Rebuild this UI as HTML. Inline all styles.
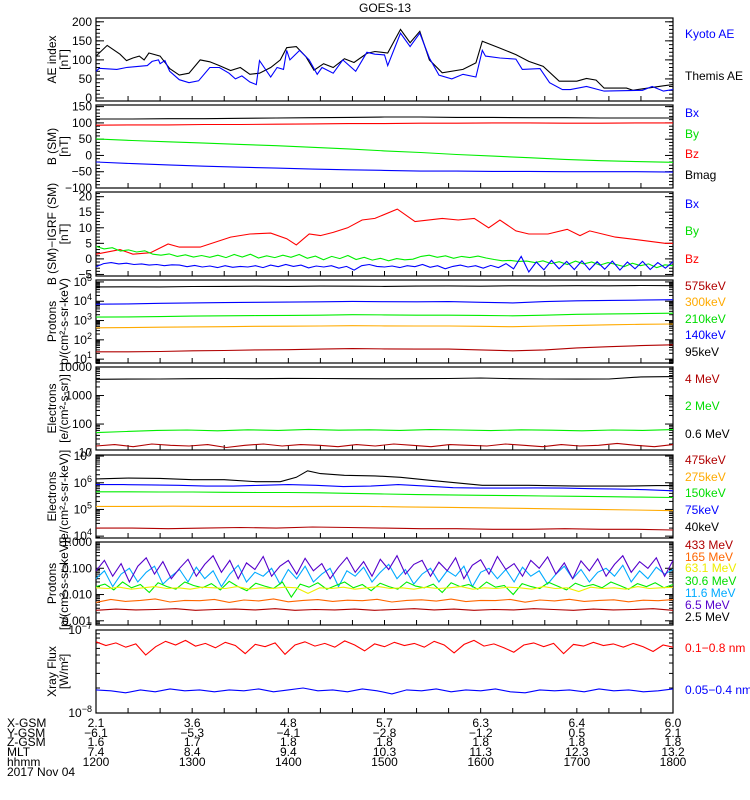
<!DOCTYPE html>
<html><head><meta charset="utf-8">
<style>
body{margin:0;background:#fff;}
svg{display:block;font-family:"Liberation Sans",sans-serif;}
text{font-size:12px;}
</style></head>
<body>
<svg id="chart" width="750" height="800" viewBox="0 0 750 800" xmlns="http://www.w3.org/2000/svg">
<rect width="750" height="800" fill="#fff"/>
<text x="385" y="12" text-anchor="middle" font-size="13">GOES-13</text>
<g id="g"></g>
</svg>
<script>
// ===== data =====
// Panel 1: AE index (time in minutes after 1200)
const aeThemisT=[0,7,15,19,23,27,30,33,40,46,52,58,65,71,77,84,90,96,102,109,115,119,125,131,136,142,148,155,161,169,174,182,190,196,202,208,216,229,237,241,252,262,270,279,289,300,306,312,317,331,335,354,360];
const aeThemisV=[110,138,115,98,105,110,100,118,110,77,60,65,100,95,85,72,80,62,65,80,100,132,135,108,73,90,80,103,93,117,122,118,180,145,175,100,66,75,92,149,131,114,96,83,44,44,51,47,26,26,20,32,35];
const aeKyotoT=[0,2,13,19,32,35,39,40,43,46,52,58,64,71,77,83,87,91,96,100,102,109,113,117,119,121,127,133,138,141,148,154,162,169,174,180,182,190,196,202,208,214,222,229,237,241,243,252,262,266,277,283,291,296,306,317,341,347,354,360];
const aeKyotoV=[70,78,75,80,85,96,100,90,98,70,48,40,45,80,80,65,50,58,42,35,98,55,80,75,125,100,125,100,62,80,65,100,70,120,115,113,85,170,135,170,105,60,50,62,55,125,110,105,102,75,77,40,22,22,30,18,20,30,18,22];
// Panel 2: B (SM)
const bMag=[112,112,113,113,114,115,116,117,118,118,117,117,116,116,115,115,115];
const bZ=[93,94,94,95,95,96,97,98,98,99,99,100,100,99,99,100,100];
const bY=[51,46,42,38,34,30,25,20,14,9,3,-2,-7,-12,-16,-19,-21];
const bX=[-20,-25,-29,-33,-36,-39,-42,-44,-46,-48,-48,-49,-49,-50,-50,-50,-51];
// Panel 3: B - IGRF
const dBzT=[0,15,23,34,45,52,65,84,96,109,119,125,133,140,148,157,166,174,188,199,216,226,236,245,252,262,270,282,294,302,308,324,340,355,360];
const dBzV=[1.5,3,1.5,2,4.8,3.8,3.8,7,8,8.3,6.5,4.5,8,7.5,8.5,10,12.5,13,16,12,13,12.5,13,10,12.5,9,8,8,9.5,7.5,9,7,6,5,5];
const dBy=[4,3.2,3.6,2.5,2.9,2.2,2.6,1.5,1.2,1.6,0.8,1.3,0.6,1.1,0.5,1.2,0.4,1.4,0.6,1.5,0.3,1.0,0.4,1.2,0.5,1.4,0.2,0.9,-0.3,0.8,0.1,1.1,-0.2,0.5,-0.4,0.2,-0.6,0.1,-0.3,-0.1,0.8,1.2,0.5,1.0,0.2,0.8,0.4,0.9,0.3,-0.2,-0.6,-0.5,-0.8,-0.7,-1.2,-0.6,-1.5,-0.9,-1.8,-0.7,-1.6,-1.0,-2.0,-1.2,-1.8,-2.5,-1.4,-2.2,-1.6,-2.8,-1.9,-2.2];
const dBx=[-2.5,-1.5,-1.2,-1.6,-1.4,-1.8,-1.6,-2.0,-1.8,-2.2,-1.9,-2.0,-2.5,-2.1,-2.6,-2.3,-2.8,-2.2,-2.7,-2.4,-2.6,-2.2,-2.8,-2.0,-2.5,-1.8,-2.4,-2.0,-2.9,-2.3,-2.6,-2.2,-3.0,-2.4,-3.6,-2.2,-1.8,-2.4,-2.6,-2.3,-2.8,-2.2,-2.5,-1.8,-2.7,-2.2,-3.2,-2.4,-2.0,-2.6,-2.2,-3.0,-2.1,-2.8,-1.5,-3.2,0.8,-4.2,-1.0,-3.5,-0.5,-3.2,-0.8,-3.4,-0.6,-3.5,-0.9,-3.3,-0.7,-3.6,-1.0,-3.2,-0.8,-3.4,-1.2,-3.0,-0.9];
// Panel 4: protons
const p4Black=[5.5e4,5.6e4,5.5e4,5.8e4,5.9e4,6e4,5.9e4,6.1e4,6e4,5.9e4,6.1e4,6.2e4,6e4,6.3e4,6.2e4,6.4e4,6.3e4,6.5e4,6.4e4];
const p4Blue=[7e3,7.3e3,7.8e3,8.2e3,8.5e3,8.8e3,9e3,9.4e3,9.8e3,9.5e3,9.3e3,9.6e3,8.8e3,8.2e3,9.6e3,1.05e4,1.1e4,1.15e4,1.2e4];
const p4Green=[1.5e3,1.55e3,1.6e3,1.7e3,1.75e3,1.8e3,1.85e3,1.9e3,2e3,1.95e3,1.9e3,1.9e3,1.85e3,1.75e3,1.9e3,2.1e3,2.2e3,2.3e3,2.4e3];
const p4Orange=[420,430,450,470,480,500,510,520,540,530,520,520,500,480,520,560,600,640,660];
const p4DkRed=[24,24,25,27,28,30,31,33,35,34,33,33,30,27,30,38,44,50,55];
// Panel 5: electrons integral
const e5Black=[3.7e3,3.75e3,3.8e3,3.9e3,3.95e3,3.9e3,4e3,3.95e3,3.9e3,3.85e3,3.9e3,3.95e3,4.1e3,3.9e3,3.8e3,3.75e3,3.8e3,4.5e3,4.6e3];
const e5Green=[50,55,60,62,58,63,60,65,61,63,60,64,62,59,63,61,58,62,60,64];
const e5Red=[17,19,16,20,18,17,19,15,18,20,17,19,18,16,19,17,20,18,16,19,18,17,20,18,16,19,17,18,21,18,16,19];
// Panel 6: electrons differential
const e6BlackT=[0,20,40,60,80,100,115,125,132,140,155,174,190,210,241,270,300,330,350,360];
const e6BlackV=[1.4e6,1.5e6,1.45e6,1.3e6,1.3e6,1.1e6,1.1e6,1.6e6,2.8e6,2.2e6,1.9e6,1.8e6,1.6e6,1.2e6,8e5,8e5,7.5e5,7.5e5,7.8e5,7.8e5];
const e6Blue=[8.5e5,8.5e5,8.3e5,8e5,7.5e5,7.5e5,8e5,8.5e5,8e5,7.2e5,7.5e5,8.5e5,7.5e5,6.5e5,6.3e5,6.3e5,6.4e5,6.3e5,6e5,5.8e5,5.5e5,5e5];
const e6Green=[4.6e5,4.6e5,4.5e5,4.5e5,4.4e5,4.3e5,4.3e5,4.2e5,4e5,3.8e5,3.6e5,3.5e5,3.4e5,3.3e5,3.2e5,3.1e5,3e5,2.9e5,2.8e5];
const e6Orange=[1.3e5,1.3e5,1.32e5,1.3e5,1.3e5,1.28e5,1.3e5,1.3e5,1.25e5,1.2e5,1.15e5,1.1e5,1.05e5,1e5,9.5e4,9e4];
const e6DkRed=[2e4,2e4,1.9e4,2e4,2.1e4,2e4,2.2e4,2.1e4,2e4,1.9e4,1.9e4,1.8e4,1.8e4,1.9e4,1.8e4,1.8e4,1.7e4];
// Panel 7: high-energy protons
const p7Purple=[0.08,0.2,0.05,0.15,0.03,0.12,0.25,0.06,0.18,0.04,0.1,0.22,0.05,0.14,0.3,0.07,0.2,0.04,0.16,0.09,0.28,0.05,0.12,0.2,0.06,0.24,0.08,0.15,0.04,0.11,0.26,0.07,0.18,0.05,0.22,0.09,0.3,0.06,0.14,0.2,0.05,0.17,0.08,0.25,0.04,0.13,0.21,0.06,0.28,0.09,0.15,0.05,0.2,0.1,0.27,0.06,0.16,0.04,0.19,0.08,0.23,0.05,0.14,0.3,0.07,0.18,0.1,0.25,0.05,0.2];
const p7Cyan=[0.04,0.08,0.02,0.06,0.1,0.03,0.07,0.12,0.025,0.05,0.09,0.03,0.11,0.04,0.08,0.02,0.06,0.13,0.03,0.07,0.05,0.1,0.025,0.09,0.04,0.12,0.03,0.06,0.1,0.02,0.08,0.05,0.11,0.03,0.07,0.14,0.04,0.09,0.025,0.06,0.1,0.03,0.08,0.05,0.12,0.02,0.07,0.1,0.04,0.09,0.03,0.11,0.05,0.08,0.025,0.06,0.12,0.04,0.09,0.03,0.07,0.1,0.05,0.13,0.03,0.08,0.04,0.11,0.06,0.09];
const p7Green=[0.02,0.025,0.015,0.03,0.018,0.024,0.012,0.028,0.02,0.016,0.03,0.022,0.018,0.026,0.015,0.032,0.02,0.014,0.027,0.021,0.017,0.03,0.008,0.025,0.019,0.028,0.016,0.022,0.03,0.018,0.024,0.014,0.027,0.02,0.016,0.03,0.021,0.018,0.025,0.012,0.028,0.02,0.024,0.016,0.03,0.019,0.022,0.01,0.026,0.02,0.017,0.029,0.021,0.015,0.027,0.02,0.024,0.018,0.03,0.022,0.016,0.026,0.02,0.028,0.018,0.024];
const p7Yellow=[0.018,0.017,0.019,0.016,0.018,0.02,0.017,0.018,0.016,0.019,0.018,0.017,0.02,0.016,0.018,0.017,0.019,0.018,0.011,0.018,0.017,0.019,0.016,0.018,0.02,0.017,0.018,0.016,0.019,0.017,0.018,0.02,0.016,0.018,0.017,0.019,0.018,0.016,0.02,0.017,0.018,0.013,0.019,0.017,0.018,0.016,0.02,0.017,0.018,0.019];
const p7Orange=[0.005,0.0065,0.0055,0.006,0.0068,0.0052,0.006,0.0058,0.0065,0.005,0.0062,0.0057,0.0068,0.0053,0.006,0.0064,0.0055,0.0061,0.0058,0.0066,0.0052,0.006,0.0063,0.0056,0.0067,0.0054,0.006,0.0059,0.0065,0.0051,0.0062,0.0057,0.0066,0.0055,0.006,0.0063,0.0053,0.0061,0.0058,0.0064];
const p7DkRed=[0.0025,0.0028,0.0026,0.0027,0.0029,0.0025,0.0027,0.0028,0.0026,0.0029,0.0025,0.0027,0.0026,0.0028,0.0025,0.0027,0.0029,0.0026,0.0028,0.0025,0.0027,0.0026,0.0029,0.0027,0.0025,0.0028,0.0026,0.0027,0.0029,0.0025];
// Panel 8: X-ray
const xrLong=[7.2e-8,6.5e-8,7e-8,6.2e-8,6.8e-8,5e-8,6.3e-8,7.3e-8,6.6e-8,7.5e-8,6.4e-8,6.9e-8,6.1e-8,7.1e-8,6.5e-8,5.2e-8,6.7e-8,6.3e-8,7e-8,5.1e-8,6.6e-8,7.2e-8,6.4e-8,6.9e-8,6.2e-8,7.4e-8,6.6e-8,5.6e-8,6.8e-8,6.3e-8,7.1e-8,6.5e-8,6.9e-8,6.2e-8,7.3e-8,6.6e-8,5.3e-8,6.7e-8,7.5e-8,6.4e-8,6.8e-8,6.1e-8,5.4e-8,6.6e-8,7e-8,6.3e-8,6.9e-8,5.2e-8,6.7e-8,6.4e-8,7.1e-8,6.5e-8,6.8e-8,6.2e-8,6.9e-8,6.3e-8,5.5e-8,6.6e-8,6.2e-8];
const xrShort=[1.9e-8,1.85e-8,1.75e-8,1.9e-8,1.8e-8,1.95e-8,1.85e-8,1.9e-8,1.8e-8,1.9e-8,1.85e-8,1.95e-8,1.8e-8,1.9e-8,2e-8,1.85e-8,1.9e-8,1.8e-8,1.95e-8,1.85e-8,1.7e-8,1.9e-8,1.85e-8,1.95e-8,1.8e-8,1.9e-8,1.85e-8,1.95e-8,1.8e-8,1.75e-8,1.9e-8,1.85e-8,1.9e-8,1.8e-8,1.95e-8,1.85e-8,1.9e-8,1.8e-8,1.85e-8,1.95e-8];
// Bottom ephemeris table
const hourLabels=["1200","1300","1400","1500","1600","1700","1800"];
const xgsm=["2.1","3.6","4.8","5.7","6.3","6.4","6.0"];
const ygsm=["\u22126.1","\u22125.3","\u22124.1","\u22122.8","\u22121.2","0.5","2.1"];
const zgsm=["1.6","1.7","1.8","1.8","1.8","1.8","1.8"];
const mlt=["7.4","8.4","9.4","10.3","11.3","12.3","13.2"];

// ===== rendering =====
const NS="http://www.w3.org/2000/svg";
const G=document.getElementById('g');
const X0=96,X1=673;
function xs(t){return X0+t/360*(X1-X0);}
function mk(tag,attrs,parent){const e=document.createElementNS(NS,tag);for(const k in attrs)e.setAttribute(k,attrs[k]);(parent||G).appendChild(e);return e;}
function uni(v){return v.map((_,i)=>i*360/(v.length-1));}

const panels=[
 {name:'ae-index-panel',top:18,bot:101,log:false,min:-8,max:210,major:[0,50,100,150,200],minor:10,labels:['0','50','100','150','200'],t1:'AE index',t2:'[nT]'},
 {name:'b-sm-panel',top:105,bot:188,log:false,min:-100,max:155,major:[-100,-50,0,50,100,150],minor:10,labels:['\u2212100','\u221250','0','50','100','150'],t1:'B (SM)',t2:'[nT]'},
 {name:'b-minus-igrf-panel',top:192,bot:276,log:false,min:-5.5,max:21.5,major:[-5,0,5,10,15,20],minor:1,labels:['\u22125','0','5','10','15','20'],t1:'B (SM)\u2212IGRF (SM)',t2:'[nT]'},
 {name:'protons-low-panel',top:280,bot:363,log:true,min:0.8,max:5.1,major:[1,2,3,4,5],sup:true,t1:'Protons',t2:'p/(cm\u00b2-s-sr-keV)'},
 {name:'electrons-integral-panel',top:367,bot:450,log:true,min:1.09,max:4.0,major:[1,2,3,4],labels:['10','100','1000','10000'],t1:'Electrons',t2:'[e/(cm\u00b2-s-sr)]'},
 {name:'electrons-diff-panel',top:455,bot:538,log:true,min:3.93,max:7.04,major:[4,5,6,7],sup:true,t1:'Electrons',t2:'[e/(cm\u00b2-s-sr-keV)]'},
 {name:'protons-high-panel',top:542,bot:625,log:true,min:-3.16,max:0.0,major:[-3,-2,-1,0],labels:['0.001','0.010','0.100','1.000'],t1:'Protons',t2:'[p/(cm\u00b2-s-sr-keV)]'},
 {name:'xray-flux-panel',top:630,bot:713,log:true,min:-8,max:-7,major:[-8,-7],sup:true,t1:'Xray Flux',t2:'[W/m\u00b2]'}
];
panels.forEach(p=>{
  p.y=function(v){let u=p.log?Math.log10(v):v;return p.bot-(u-p.min)/(p.max-p.min)*(p.bot-p.top);};
  p.yu=function(u){return p.bot-(u-p.min)/(p.max-p.min)*(p.bot-p.top);};
});

panels.forEach((p,pi)=>{
  const g=mk('g',{});
  
  
  const fr=mk('rect',{x:X0,y:p.top,width:X1-X0,height:p.bot-p.top,fill:'none',stroke:'#000','stroke-width':1.2},g);
  
  
  // x ticks every 20 minutes
  for(let t=0;t<=360;t+=20){
    const x=xs(t);
    mk('line',{x1:x,x2:x,y1:p.bot,y2:p.bot-5,stroke:'#000'},g);
  }
  // y ticks
  const tk=(u,len)=>{const y=p.yu(u);if(y<p.top-0.5||y>p.bot+0.5)return;
    mk('line',{x1:X0,x2:X0+len,y1:y,y2:y,stroke:'#000'},g);
    mk('line',{x1:X1,x2:X1-len,y1:y,y2:y,stroke:'#000'},g);};
  if(!p.log){
    for(let v=Math.ceil(p.min/p.minor)*p.minor;v<=p.max;v+=p.minor)tk(v,4);
    p.major.forEach(v=>tk(v,8));
  }else{
    for(let d=Math.floor(p.min);d<=Math.ceil(p.max);d++){
      for(let m=1;m<10;m++)tk(d+Math.log10(m),m==1?8:4);
    }
  }
  // tick labels
  p.major.forEach((v,i)=>{
    const y=p.yu(v);
    const t=mk('text',{x:X0-4,y:y+4,'text-anchor':'end'},g);
    
    
    if(p.sup){
      t.appendChild(document.createTextNode('10'));
      const s=mk('tspan',{dy:-5,'font-size':9},t);s.textContent=String(v).replace('-','\u2212');
    }else t.textContent=p.labels[i];
  });
  // y axis title
  const cy=(p.top+p.bot)/2;
  const a=mk('text',{x:0,y:0,'text-anchor':'middle',transform:`translate(56,${cy}) rotate(-90)`},g);
  a.textContent=p.t1;
  
  
  const b=mk('text',{x:0,y:0,'text-anchor':'middle',transform:`translate(68,${cy}) rotate(-90)`},g);
  b.textContent=p.t2;
  
  
});

const clip=mk('clipPath',{id:'cp'});
function line(pi,ts,vs,color,name){
  const p=panels[pi];
  let d='';
  vs.forEach((v,i)=>{d+=(i?'L':'M')+xs(ts[i]).toFixed(1)+','+p.y(v).toFixed(1);});
  const e=mk('path',{d:d,fill:'none',stroke:color,'stroke-width':1.1,'stroke-linejoin':'miter'});
  
  
}
line(0,aeThemisT,aeThemisV,'#000','themis-ae-line');
line(0,aeKyotoT,aeKyotoV,'#0000ff','kyoto-ae-line');
line(1,uni(bMag),bMag,'#000','bmag-line');
line(1,uni(bZ),bZ,'#ff0000','bz-line');
line(1,uni(bY),bY,'#00ee00','by-line');
line(1,uni(bX),bX,'#0000ff','bx-line');
line(2,dBzT,dBzV,'#ff0000','dbz-line');
line(2,uni(dBy),dBy,'#00ee00','dby-line');
line(2,uni(dBx),dBx,'#0000ff','dbx-line');
line(3,uni(p4Black),p4Black,'#000','proton-95kev-line');
line(3,uni(p4Blue),p4Blue,'#0000ff','proton-140kev-line');
line(3,uni(p4Green),p4Green,'#00ee00','proton-210kev-line');
line(3,uni(p4Orange),p4Orange,'#ffaa00','proton-300kev-line');
line(3,uni(p4DkRed),p4DkRed,'#b00000','proton-575kev-line');
line(4,uni(e5Black),e5Black,'#000','electron-0p6mev-line');
line(4,uni(e5Green),e5Green,'#00ee00','electron-2mev-line');
line(4,uni(e5Red),e5Red,'#b00000','electron-4mev-line');
line(5,e6BlackT,e6BlackV,'#000','electron-40kev-line');
line(5,uni(e6Blue),e6Blue,'#0000ff','electron-75kev-line');
line(5,uni(e6Green),e6Green,'#00ee00','electron-150kev-line');
line(5,uni(e6Orange),e6Orange,'#ffaa00','electron-275kev-line');
line(5,uni(e6DkRed),e6DkRed,'#b00000','electron-475kev-line');
line(6,uni(p7DkRed),p7DkRed,'#b00000','proton-433mev-line');
line(6,uni(p7Orange),p7Orange,'#ff6600','proton-165mev-line');
line(6,uni(p7Cyan),p7Cyan,'#00aaff','proton-11p6mev-line');
line(6,uni(p7Purple),p7Purple,'#5500cc','proton-6p5mev-line');
line(6,uni(p7Green),p7Green,'#00ee00','proton-30p6mev-line');
line(6,uni(p7Yellow),p7Yellow,'#eeee00','proton-63p1mev-line');
line(7,uni(xrLong),xrLong,'#ff0000','xray-long-line');
line(7,uni(xrShort),xrShort,'#0000ff','xray-short-line');

// legends
const legends=[
 ['Kyoto AE','#0000ff',38],['Themis AE','#000',80],
 ['Bx','#0000ff',117],['By','#00dd00',138],['Bz','#ff0000',158],['Bmag','#000',179],
 ['Bx','#0000ff',208],['By','#00dd00',235],['Bz','#ff0000',263],
 ['575keV','#b00000',290],['300keV','#ffaa00',306],['210keV','#00dd00',323],['140keV','#0000ff',339],['95keV','#000',356],
 ['4 MeV','#b00000',383],['2 MeV','#00dd00',410],['0.6 MeV','#000',438],
 ['475keV','#b00000',464],['275keV','#ffaa00',481],['150keV','#00dd00',497],['75keV','#0000ff',514],['40keV','#000',531],
 ['433 MeV','#b00000',549],['165 MeV','#ff6600',561],['63.1 MeV','#eeee00',572],['30.6 MeV','#00dd00',585],['11.6 MeV','#00aaff',597],['6.5 MeV','#5500cc',609],['2.5 MeV','#000',621],
 ['0.1\u22120.8 nm','#ff0000',652],['0.05\u22120.4 nm','#0000ff',694]
];
legends.forEach(l=>{
  const t=mk('text',{x:685,y:l[2],fill:l[1]});
  t.textContent=l[0];
  
  
});

// bottom table
const rows=[['X-GSM',xgsm,727],['Y-GSM',ygsm,737],['Z-GSM',zgsm,746],['MLT',mlt,756],['hhmm',hourLabels,766]];
rows.forEach(r=>{
  const h=mk('text',{x:7,y:r[2]});
  h.textContent=r[0];
  
  
  r[1].forEach((v,i)=>{
    const t=mk('text',{x:xs(i*60),y:r[2],'text-anchor':'middle'});
    t.textContent=v;
    
    
  });
});
const dt=mk('text',{x:7,y:776});
dt.textContent='2017 Nov 04';


</script>
</body></html>
